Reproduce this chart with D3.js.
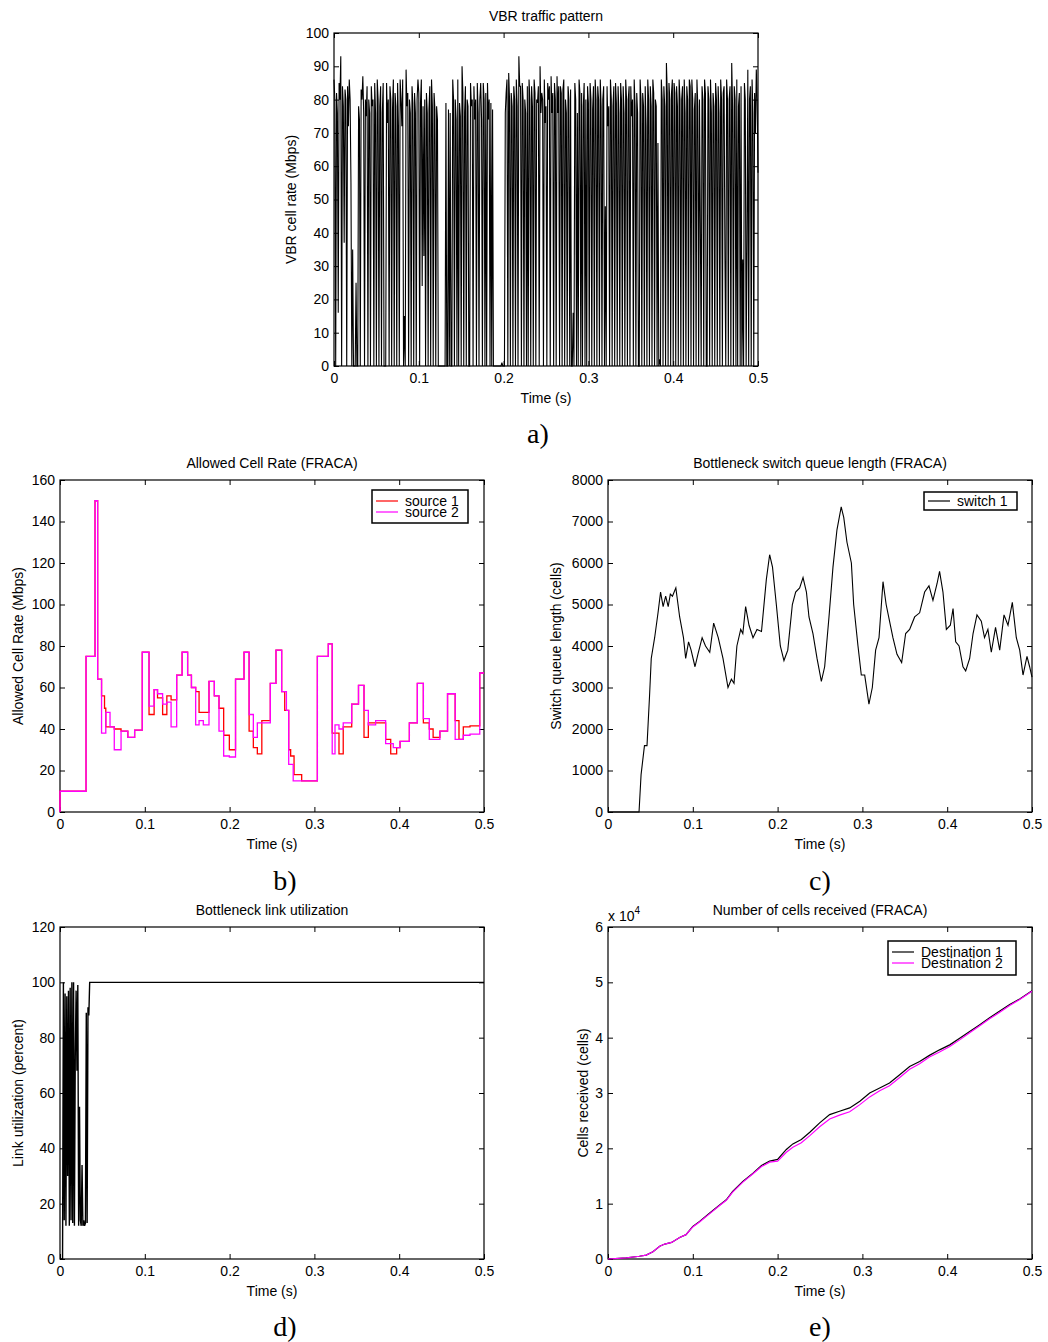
<!DOCTYPE html>
<html>
<head>
<meta charset="utf-8">
<script src="https://cdn.jsdelivr.net/npm/d3@7"></script>
<style>
  body { margin: 0; background: #fff; }
  svg text { font-family: "Liberation Sans", Arial, sans-serif; font-size: 14px; fill: #000; }
  .sub { font-family: "Liberation Serif", "Times New Roman", serif !important; font-size: 28px !important; }
</style>
</head>
<body>
<svg id="fig" width="1048" height="1342"></svg>
<script>
// a) VBR traffic pattern, sampled every 1 ms (Mbps)
var vbrStep = 0.001;
var vbrRate = [
  86, 80, 0, 82, 76, 16, 85, 80, 93, 0, 84, 78, 37, 83, 80, 0, 84, 72, 86, 80,
  55, 0, 35, 0, 0, 0, 25, 0, 0, 78, 74, 0, 83, 80, 87, 76, 0, 80, 75, 84,
  0, 80, 76, 0, 84, 78, 80, 0, 85, 76, 0, 86, 80, 0, 78, 84, 0, 76, 85, 0,
  0, 0, 85, 73, 80, 0, 84, 80, 0, 77, 86, 0, 82, 78, 0, 85, 72, 0, 86, 80,
  72, 86, 0, 15, 0, 89, 78, 82, 0, 80, 76, 0, 84, 79, 0, 82, 76, 0, 80, 86,
  82, 0, 79, 86, 24, 78, 33, 80, 0, 82, 76, 0, 77, 84, 0, 86, 78, 0, 82, 77,
  0, 78, 74, 0, 0, 0, 0, 0, 0, 0, 0, 0, 79, 0, 0, 77, 0, 76, 0, 0,
  86, 80, 0, 80, 74, 0, 86, 0, 79, 75, 0, 90, 82, 0, 76, 84, 0, 80, 78, 0,
  0, 85, 78, 80, 0, 84, 74, 80, 0, 85, 76, 0, 80, 85, 74, 0, 85, 80, 0, 82,
  0, 85, 74, 80, 0, 79, 0, 77, 0, 0, 0, 0, 0, 0, 0, 0, 0, 0, 1, 0,
  0, 0, 76, 82, 86, 0, 88, 80, 0, 82, 78, 0, 84, 80, 0, 86, 78, 0, 93, 84,
  84, 0, 85, 80, 0, 80, 76, 0, 84, 0, 86, 80, 0, 84, 78, 0, 86, 82, 0, 80,
  79, 84, 0, 90, 76, 82, 80, 0, 86, 73, 78, 0, 85, 80, 84, 0, 87, 76, 82, 0,
  85, 80, 0, 87, 76, 84, 0, 84, 82, 0, 83, 86, 0, 80, 76, 0, 84, 80, 0, 83,
  0, 0, 16, 0, 85, 80, 0, 76, 0, 86, 82, 0, 82, 0, 78, 85, 0, 80, 0, 84,
  79, 0, 85, 80, 0, 77, 84, 0, 86, 80, 0, 84, 80, 0, 86, 78, 0, 80, 84, 0,
  48, 0, 84, 72, 78, 0, 86, 80, 0, 78, 84, 0, 85, 79, 0, 84, 76, 0, 85, 80,
  0, 84, 76, 0, 86, 80, 0, 80, 84, 0, 84, 75, 80, 0, 86, 78, 0, 82, 76, 0,
  0, 86, 80, 0, 82, 78, 0, 84, 72, 0, 86, 80, 0, 84, 78, 0, 86, 82, 0, 80,
  78, 0, 67, 0, 2, 0, 86, 80, 0, 84, 78, 0, 91, 82, 0, 85, 80, 0, 82, 86,
  0, 85, 82, 0, 84, 78, 0, 86, 80, 0, 80, 84, 0, 86, 76, 0, 84, 80, 0, 86,
  84, 0, 86, 80, 0, 77, 82, 0, 86, 78, 0, 80, 43, 0, 84, 80, 0, 86, 82, 0,
  0, 84, 80, 0, 86, 76, 0, 82, 78, 0, 85, 80, 0, 84, 76, 0, 86, 80, 0, 82,
  84, 33, 0, 86, 80, 0, 80, 84, 0, 91, 78, 0, 84, 80, 0, 86, 0, 78, 82, 0,
  84, 0, 32, 0, 85, 80, 0, 38, 89, 0, 80, 84, 0, 86, 76, 0, 82, 70, 89, 80,
  58
];

// b) Allowed cell rate, step changes (Mbps)
var acr1Time = [0, 0, 0.0307, 0.0413, 0.0444, 0.049, 0.0525, 0.054, 0.064, 0.072, 0.080, 0.088, 0.097, 0.105, 0.111, 0.115, 0.121, 0.126, 0.131, 0.1376, 0.144, 0.1505, 0.155, 0.16, 0.164, 0.1757, 0.182, 0.1875, 0.193, 0.1997, 0.207, 0.217, 0.223, 0.228, 0.2327, 0.238, 0.248, 0.2547, 0.2614, 0.265, 0.2697, 0.272, 0.276, 0.285, 0.3035, 0.3164, 0.321, 0.329, 0.334, 0.344, 0.352, 0.3585, 0.3636, 0.384, 0.39, 0.397, 0.401, 0.412, 0.4214, 0.4285, 0.4355, 0.44, 0.448, 0.457, 0.466, 0.4705, 0.4756, 0.4835, 0.495, 0.5];
var acr1Rate = [0, 10, 75, 150, 64, 56, 50, 41, 40, 39, 36, 39.5, 77, 47, 59, 55, 47, 56, 54, 66, 77, 66, 60, 58, 48, 63, 56, 50, 37, 30, 64, 77, 39, 31, 28, 44, 62, 78, 58, 49, 30, 27, 18, 15, 75, 81, 38, 28, 41, 52, 61, 36, 43, 35, 28, 31, 34, 43, 62, 43, 40, 36, 39, 57, 44, 35, 41, 41.5, 67, 67];
var acr2Time = [0, 0, 0.0307, 0.0413, 0.0444, 0.049, 0.054, 0.059, 0.064, 0.072, 0.080, 0.088, 0.097, 0.105, 0.111, 0.115, 0.121, 0.126, 0.131, 0.1376, 0.144, 0.1505, 0.155, 0.16, 0.164, 0.169, 0.1757, 0.182, 0.1875, 0.193, 0.1997, 0.207, 0.217, 0.223, 0.228, 0.2327, 0.248, 0.2547, 0.2614, 0.267, 0.2697, 0.275, 0.3035, 0.3164, 0.321, 0.3243, 0.329, 0.334, 0.344, 0.352, 0.3585, 0.3636, 0.3722, 0.384, 0.393, 0.401, 0.412, 0.4214, 0.4285, 0.4355, 0.448, 0.457, 0.466, 0.4756, 0.4835, 0.495, 0.5];
var acr2Rate = [0, 10, 75, 150, 64, 38, 48, 41, 30, 39, 36, 39.5, 77, 51, 59, 57, 52, 53, 41, 66, 77, 66, 60, 42, 44, 42, 63, 56, 39, 27, 26.5, 64, 77, 47, 36, 43, 62, 78, 58, 49, 23, 15, 75, 81, 28, 42, 40, 43, 52, 61, 49, 42, 44, 33, 31, 34, 43, 62, 45, 35, 39, 57, 35, 37, 37.5, 67, 67];

// c) Bottleneck switch queue length (cells)
var queueTime = [0, 0.0366, 0.039, 0.043, 0.046, 0.049, 0.051, 0.055, 0.059, 0.062, 0.065, 0.068, 0.071, 0.0735, 0.076, 0.080, 0.0845, 0.089, 0.0916, 0.095, 0.098, 0.1026, 0.106, 0.111, 0.115, 0.12, 0.1246, 0.13, 0.1356, 0.1415, 0.1455, 0.1486, 0.152, 0.1565, 0.159, 0.1623, 0.1663, 0.171, 0.1757, 0.181, 0.1867, 0.1906, 0.194, 0.1985, 0.2032, 0.2075, 0.212, 0.2174, 0.2213, 0.226, 0.23, 0.234, 0.237, 0.2417, 0.2465, 0.2516, 0.2555, 0.2606, 0.2653, 0.27, 0.275, 0.278, 0.2818, 0.287, 0.2897, 0.2948, 0.2987, 0.3027, 0.3077, 0.3117, 0.3156, 0.3196, 0.3243, 0.328, 0.332, 0.336, 0.3408, 0.3463, 0.351, 0.3557, 0.3616, 0.3675, 0.3734, 0.3785, 0.3832, 0.388, 0.391, 0.395, 0.399, 0.4037, 0.4069, 0.41, 0.414, 0.4186, 0.4218, 0.4265, 0.4305, 0.4351, 0.4402, 0.444, 0.448, 0.452, 0.457, 0.4619, 0.467, 0.4717, 0.4768, 0.4815, 0.4855, 0.4894, 0.4941, 0.4972, 0.5];
var queueLen = [0, 0, 900, 1600, 1600, 2800, 3700, 4200, 4800, 5300, 4950, 5200, 4950, 5250, 5200, 5400, 4700, 4200, 3700, 4100, 3900, 3500, 3800, 4200, 4000, 3850, 4550, 4200, 3700, 3000, 3200, 3100, 4000, 4400, 4300, 4950, 4500, 4200, 4400, 4350, 5600, 6200, 5900, 5000, 4000, 3650, 3900, 5000, 5300, 5400, 5650, 5300, 4700, 4300, 3700, 3150, 3500, 4700, 5900, 6800, 7350, 7100, 6500, 6000, 5000, 4000, 3300, 3300, 2600, 3000, 3900, 4200, 5550, 5000, 4600, 4200, 3800, 3600, 4300, 4400, 4700, 4800, 5300, 5450, 5100, 5500, 5800, 5300, 4400, 4500, 4900, 4100, 4000, 3500, 3400, 3700, 4300, 4750, 4600, 4200, 4400, 3850, 4450, 3900, 4750, 4500, 5050, 4200, 3900, 3300, 3750, 3500, 3250];

// d) Bottleneck link utilization (percent)
var utilTime = [0, 0.003, 0.004, 0.005, 0.006, 0.007, 0.008, 0.009, 0.010, 0.011, 0.012, 0.013, 0.014, 0.015, 0.016, 0.017, 0.018, 0.019, 0.020, 0.021, 0.022, 0.023, 0.024, 0.025, 0.026, 0.027, 0.028, 0.029, 0.030, 0.031, 0.032, 0.033, 0.034, 0.035, 0.5];
var utilPct = [0, 0, 100, 14, 96, 12, 95, 30, 97, 12, 98, 14, 100, 13, 100, 12, 73, 97, 68, 99, 12, 55, 14, 12, 34, 12, 14, 12, 13, 89, 13, 91, 88, 100, 100];

// e) Number of cells received (x 10^4 cells)
var cellTime = [0, 0.0216, 0.037, 0.045, 0.053, 0.061, 0.067, 0.075, 0.0845, 0.092, 0.1, 0.108, 0.12, 0.132, 0.1395, 0.147, 0.159, 0.171, 0.181, 0.1906, 0.2, 0.2103, 0.218, 0.228, 0.238, 0.2496, 0.2614, 0.273, 0.285, 0.297, 0.3086, 0.3204, 0.332, 0.344, 0.3557, 0.3675, 0.379, 0.391, 0.403, 0.4147, 0.4265, 0.438, 0.45, 0.462, 0.4737, 0.4855, 0.5];
var dest1Cells = [0, 0.02, 0.05, 0.07, 0.13, 0.23, 0.27, 0.30, 0.39, 0.44, 0.59, 0.68, 0.83, 0.98, 1.07, 1.22, 1.40, 1.55, 1.69, 1.77, 1.80, 1.98, 2.08, 2.16, 2.29, 2.46, 2.61, 2.67, 2.73, 2.85, 3.0, 3.09, 3.18, 3.33, 3.48, 3.57, 3.68, 3.78, 3.87, 3.99, 4.11, 4.23, 4.36, 4.48, 4.6, 4.70, 4.85];
var dest2Cells = [0, 0.02, 0.05, 0.07, 0.13, 0.23, 0.27, 0.30, 0.39, 0.44, 0.58, 0.67, 0.82, 0.97, 1.06, 1.21, 1.39, 1.54, 1.67, 1.75, 1.77, 1.93, 2.02, 2.10, 2.23, 2.39, 2.53, 2.60, 2.66, 2.79, 2.93, 3.04, 3.13, 3.28, 3.43, 3.53, 3.65, 3.74, 3.84, 3.96, 4.09, 4.21, 4.34, 4.46, 4.58, 4.69, 4.84];

var timeTicks = [0, 0.1, 0.2, 0.3, 0.4, 0.5];

var svg = d3.select("#fig");
svg.append("rect").attr("width", 1048).attr("height", 1342).attr("fill", "#fff");

function zip(xs, ys) {
  return xs.map(function(x, i) { return [x, ys[i]]; });
}

// draws one matlab-style panel and returns its scales + group
function panel(opt) {
  var g = svg.append("g").attr("transform", "translate(" + opt.left + "," + opt.top + ")");
  var x = d3.scaleLinear().domain([0, 0.5]).range([0, opt.w]);
  var y = d3.scaleLinear().domain(opt.yDomain).range([opt.h, 0]);
  var fmt = function(d) { return String(d); };

  g.append("g").attr("transform", "translate(0," + opt.h + ")")
    .call(d3.axisBottom(x).tickValues(timeTicks).tickSize(-5).tickPadding(7).tickFormat(fmt));
  g.append("g").call(d3.axisLeft(y).tickValues(opt.yTicks).tickSize(-5).tickPadding(5).tickFormat(fmt));
  g.append("g").call(d3.axisTop(x).tickValues(timeTicks).tickSize(-5).tickFormat(""));
  g.append("g").attr("transform", "translate(" + opt.w + ",0)")
    .call(d3.axisRight(y).tickValues(opt.yTicks).tickSize(-5).tickFormat(""));
  g.selectAll(".domain").remove();
  g.selectAll(".tick line").attr("stroke", "#000");
  g.selectAll(".tick text").style("font-size", "14px");

  g.append("rect").attr("width", opt.w).attr("height", opt.h)
    .attr("fill", "none").attr("stroke", "#000").attr("stroke-width", 1.2);

  // title, axis labels, sub caption
  g.append("text").attr("x", opt.w / 2).attr("y", -12).attr("text-anchor", "middle").text(opt.title);
  g.append("text").attr("x", opt.w / 2).attr("y", opt.h + 37).attr("text-anchor", "middle").text("Time (s)");
  g.append("text").attr("text-anchor", "middle")
    .attr("transform", "translate(" + opt.yLabelX + "," + (opt.h / 2) + ") rotate(-90)")
    .text(opt.yLabel);
  svg.append("text").attr("class", "sub").attr("x", opt.subX).attr("y", opt.subY)
    .attr("text-anchor", "middle").text(opt.sub);

  var plot = g.append("g");
  return { g: g, plot: plot, x: x, y: y };
}

function drawLine(p, pts, color, width, curve) {
  var line = d3.line()
    .x(function(d) { return p.x(d[0]); })
    .y(function(d) { return p.y(d[1]); })
    .curve(curve || d3.curveLinear);
  p.plot.append("path").attr("d", line(pts))
    .attr("fill", "none").attr("stroke", color).attr("stroke-width", width)
    .attr("stroke-linejoin", "miter");
}

function legend(p, bx, by, bw, bh, items) {
  var lg = p.g.append("g").attr("transform", "translate(" + bx + "," + by + ")");
  lg.append("rect").attr("width", bw).attr("height", bh)
    .attr("fill", "#fff").attr("stroke", "#000").attr("stroke-width", 1.5);
  items.forEach(function(it) {
    lg.append("line").attr("x1", 4).attr("x2", 26).attr("y1", it.y).attr("y2", it.y)
      .attr("stroke", it.color).attr("stroke-width", 1.2);
    lg.append("text").attr("x", 33).attr("y", it.y + 5).text(it.label);
  });
}

// a)
var pa = panel({ left: 334, top: 33, w: 424, h: 333, yDomain: [0, 100],
  yTicks: d3.range(0, 101, 10), title: "VBR traffic pattern",
  yLabel: "VBR cell rate (Mbps)", yLabelX: -38, sub: "a)", subX: 538, subY: 443 });
drawLine(pa, vbrRate.map(function(v, i) { return [i * vbrStep, v]; }), "#000", 1.1);

// b)
var pb = panel({ left: 60, top: 480, w: 424, h: 332, yDomain: [0, 160],
  yTicks: d3.range(0, 161, 20), title: "Allowed Cell Rate (FRACA)",
  yLabel: "Allowed Cell Rate (Mbps)", yLabelX: -37, sub: "b)", subX: 285, subY: 890 });
drawLine(pb, zip(acr1Time, acr1Rate), "#ff0000", 1.3, d3.curveStepAfter);
drawLine(pb, zip(acr2Time, acr2Rate), "#ff00ff", 1.3, d3.curveStepAfter);
legend(pb, 312, 10, 96, 33, [
  { label: "source 1", color: "#ff0000", y: 11 },
  { label: "source 2", color: "#ff00ff", y: 22 }
]);

// c)
var pc = panel({ left: 608, top: 480, w: 424, h: 332, yDomain: [0, 8000],
  yTicks: d3.range(0, 8001, 1000), title: "Bottleneck switch queue length (FRACA)",
  yLabel: "Switch queue length (cells)", yLabelX: -47, sub: "c)", subX: 820, subY: 890 });
drawLine(pc, zip(queueTime, queueLen), "#000", 1.1);
legend(pc, 316, 12, 93, 18, [
  { label: "switch 1", color: "#000", y: 9 }
]);

// d)
var pd = panel({ left: 60, top: 927, w: 424, h: 332, yDomain: [0, 120],
  yTicks: d3.range(0, 121, 20), title: "Bottleneck link utilization",
  yLabel: "Link utilization (percent)", yLabelX: -37, sub: "d)", subX: 285, subY: 1336 });
drawLine(pd, zip(utilTime, utilPct), "#000", 1.4);

// e)
var pe = panel({ left: 608, top: 927, w: 424, h: 332, yDomain: [0, 6],
  yTicks: d3.range(0, 7, 1), title: "Number of cells received (FRACA)",
  yLabel: "Cells received (cells)", yLabelX: -20, sub: "e)", subX: 820, subY: 1336 });
drawLine(pe, zip(cellTime, dest1Cells), "#000", 1.2);
drawLine(pe, zip(cellTime, dest2Cells), "#ff00ff", 1.2);
legend(pe, 280, 14, 128, 34, [
  { label: "Destination 1", color: "#000", y: 11 },
  { label: "Destination 2", color: "#ff00ff", y: 22 }
]);
var ex = pe.g.append("text").attr("x", 0).attr("y", -6);
ex.append("tspan").text("x 10");
ex.append("tspan").attr("dy", -7).style("font-size", "10px").text("4");
</script>
</body>
</html>
